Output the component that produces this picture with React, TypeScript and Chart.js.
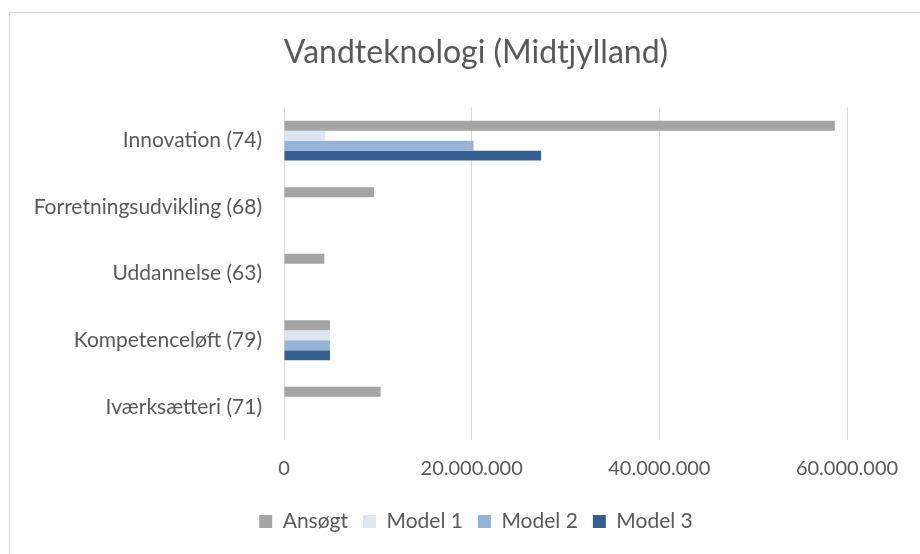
import React, { useEffect, useRef } from "react";
import { Chart, registerables } from "chart.js";

Chart.register(...registerables);

const categories = [
  "Innovation (74)",
  "Forretningsudvikling (68)",
  "Uddannelse (63)",
  "Kompetenceløft (79)",
  "Iværksætteri (71)",
];
const ansoegt = [58700000, 9600000, 4300000, 4900000, 10300000];
const model1 = [4400000, 0, 0, 4900000, 0];
const model2 = [20200000, 0, 0, 4900000, 0];
const model3 = [27400000, 0, 0, 4900000, 0];
const seriesNames = ["Ansøgt", "Model 1", "Model 2", "Model 3"];
const seriesColors = ["#a5a5a5", "#dce6f2", "#95b3d7", "#355f91"];
const xTicks = [0, 20000000, 40000000, 60000000];
const titleText = "Vandteknologi (Midtjylland)";

const FONT = "Lato, 'Open Sans', sans-serif";
const TEXT = "#595959";

function fmt(v: number) {
  return Math.round(v)
    .toString()
    .replace(/\B(?=(\d{3})+(?!\d))/g, ".");
}

// shifts the full-width title and legend boxes so they centre like the original
const centerShift = {
  id: "centerShift",
  afterLayout(chart: any) {
    const L = 95;
    [chart.titleBlock, chart.legend].forEach((b: any) => {
      if (b) {
        b.left = L;
        b.width = b.right - L;
      }
    });
  },
};

export default function App() {
  const ref = useRef<HTMLCanvasElement | null>(null);
  useEffect(() => {
    if (!ref.current) return;
    const data = [ansoegt, model1, model2, model3];
    const chart = new Chart(ref.current, {
      type: "bar",
      plugins: [centerShift],
      data: {
        labels: categories,
        datasets: seriesNames.map((n, i) => ({
          label: n,
          data: data[i],
          backgroundColor: seriesColors[i],
          borderWidth: 0,
          categoryPercentage: 0.6,
          barPercentage: 1.0,
        })),
      },
      options: {
        indexAxis: "y",
        animation: false,
        responsive: false,
        maintainAspectRatio: false,
        layout: { padding: { left: 0, right: 74, top: 0, bottom: 12 } },
        plugins: {
          title: {
            display: true,
            text: titleText,
            color: TEXT,
            font: { family: FONT, size: 32, weight: "normal" },
            padding: { top: 20, bottom: 36 },
          },
          legend: {
            position: "bottom",
            labels: {
              color: TEXT,
              font: { family: FONT, size: 21 },
              boxWidth: 13,
              boxHeight: 13,
              padding: 15,
            },
          },
          tooltip: { enabled: false },
        },
        scales: {
          x: {
            min: 0,
            max: 60000000,
            afterBuildTicks: (s: any) => {
              s.ticks = xTicks.map((v) => ({ value: v }));
            },
            afterFit: (s: any) => {
              s.height = 56;
            },
            grid: { color: "#d9d9d9", drawTicks: false, lineWidth: 1 },
            border: { display: false },
            ticks: {
              color: TEXT,
              font: { family: FONT, size: 20 },
              padding: 17,
              maxRotation: 0,
              callback: (v: any) => fmt(Number(v)),
            },
          },
          y: {
            afterFit: (s: any) => {
              s.width = 274;
            },
            grid: { display: false, drawTicks: false },
            border: { display: false },
            ticks: {
              color: TEXT,
              font: { family: FONT, size: 21 },
              padding: 22,
            },
          },
        },
      },
    });
    return () => chart.destroy();
  }, []);
  return (
    <div
      style={{
        position: "absolute",
        left: 0,
        top: 0,
        width: 920,
        height: 554,
        overflow: "hidden",
        background: "#fff",
      }}
    >
      <div
        style={{
          position: "absolute",
          left: 9,
          top: 12,
          width: 913,
          height: 560,
          border: "1px solid #d9d9d9",
          background: "#fff",
        }}
      >
        <canvas ref={ref} width={911} height={541} style={{ display: "block" }} />
      </div>
    </div>
  );
}
